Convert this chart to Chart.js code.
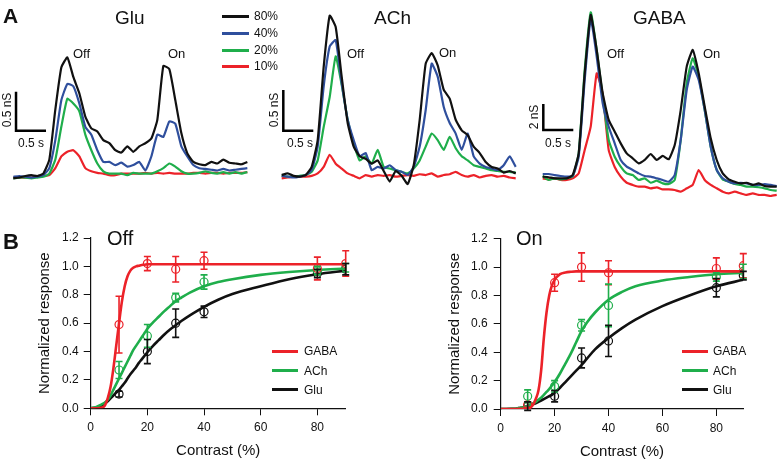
<!DOCTYPE html>
<html>
<head>
<meta charset="utf-8">
<script src="https://cdn.jsdelivr.net/npm/chart.js@4.4.0/dist/chart.umd.min.js"></script>
<style>
  body { margin: 0; width: 779px; height: 462px; background: #fff; position: relative; overflow: hidden;
         font-family: "Liberation Sans", Arial, sans-serif; color: #111; }
  canvas { position: absolute; }
  .lbl { position: absolute; white-space: nowrap; line-height: 1; }
  .key { position: absolute; height: 3px; }
</style>
</head>
<body>
<canvas id="glu" width="260" height="200" style="left:0;top:0"></canvas>
<canvas id="ach" width="260" height="200" style="left:262px;top:0"></canvas>
<canvas id="gaba" width="257" height="200" style="left:522px;top:0"></canvas>
<canvas id="off" width="390" height="262" style="left:0;top:200px"></canvas>
<canvas id="on" width="389" height="262" style="left:390px;top:200px"></canvas>
<script>
// --- Panel A: conductance traces (s, nS) ---
const traceTime = [0,0.1,0.2,0.3,0.4,0.5,0.6,0.7,0.8,0.9,1,1.1,1.2,1.3,1.4,1.5,1.6,1.7,1.8,1.9,
                   2,2.1,2.2,2.3,2.4,2.5,2.6,2.7,2.8,2.9,3,3.1,3.2,3.3,3.4,3.5,3.6,3.7,3.8,3.9];
const contrastLevels = ['80%', '40%', '20%', '10%'];

const gluBlack = [0.00,0.01,0.03,0.04,0.03,0.06,0.24,0.88,1.42,1.55,1.30,1.09,0.79,0.64,0.60,0.49,0.45,0.36,0.33,0.41,
                  0.34,0.41,0.45,0.51,0.75,1.44,1.40,1.00,0.58,0.32,0.21,0.18,0.17,0.21,0.19,0.24,0.20,0.19,0.18,0.21];
const gluBlue  = [0.02,0.03,0.02,0.01,0.02,0.04,0.13,0.49,1.00,1.21,1.18,0.96,0.66,0.56,0.36,0.21,0.21,0.17,0.20,0.15,
                  0.17,0.21,0.10,0.28,0.56,0.53,0.73,0.70,0.41,0.28,0.17,0.13,0.12,0.11,0.10,0.12,0.10,0.11,0.12,0.13];
const gluGreen = [0.00,0.01,0.01,0.00,0.01,0.02,0.06,0.24,0.66,1.02,0.96,0.86,0.56,0.36,0.19,0.09,0.06,0.06,0.06,0.04,
                  0.07,0.06,0.06,0.06,0.09,0.13,0.19,0.15,0.09,0.06,0.06,0.07,0.09,0.07,0.06,0.08,0.06,0.08,0.06,0.08];
const gluRed   = [0.01,0.01,0.01,0.01,0.02,0.03,0.04,0.13,0.28,0.34,0.36,0.28,0.13,0.09,0.07,0.06,0.04,0.04,0.06,0.06,
                  0.06,0.06,0.07,0.06,0.07,0.06,0.07,0.06,0.06,0.06,0.07,0.07,0.06,0.07,0.07,0.06,0.07,0.07,0.07,0.08];

const achBlack = [0.02,0.04,0.01,0.00,0.02,0.12,0.45,1.35,1.98,1.84,1.23,0.66,0.37,0.25,0.22,0.16,0.20,0.07,-0.06,0.07,
                  0.01,-0.09,0.14,0.70,1.39,1.52,1.37,1.07,0.96,0.70,0.57,0.51,0.37,0.29,0.18,0.12,0.10,0.05,0.07,0.04];
const achBlue  = [0.01,0.00,-0.01,0.00,0.02,0.08,0.37,1.11,1.60,1.68,1.15,0.70,0.45,0.25,0.29,0.08,0.12,0.10,0.14,0.08,
                  0.06,0.02,0.12,0.37,0.82,1.39,1.23,0.86,0.66,0.53,0.33,0.53,0.25,0.16,0.12,0.10,0.08,0.14,0.25,0.12];
const achGreen = [0.01,0.00,0.00,0.01,0.02,0.06,0.20,0.61,0.98,1.48,1.13,0.70,0.41,0.20,0.25,0.16,0.33,0.12,0.10,0.08,
                  0.06,0.04,0.10,0.20,0.37,0.53,0.45,0.33,0.49,0.35,0.25,0.20,0.14,0.12,0.10,0.08,0.07,0.06,0.06,0.05];
const achRed   = [-0.02,-0.01,0.00,0.00,0.00,0.01,0.04,0.12,0.27,0.16,0.10,0.04,0.01,-0.02,0.02,0.00,0.02,0.01,0.02,0.00,
                  0.01,0.02,0.01,0.03,0.02,0.04,0.00,0.02,0.03,0.06,0.02,0.00,0.02,-0.01,0.01,0.02,0.00,0.01,-0.01,-0.02];

const gabaBlack = [0.26,0.21,0.13,0.13,0.13,0.38,2.05,8.2,12.7,10.0,6.67,4.62,3.72,2.82,2.05,1.67,1.28,1.54,2.0,1.54,
                   1.85,1.59,2.69,5.38,8.72,10.0,8.2,5.64,3.21,1.54,0.51,0.05,-0.13,-0.26,-0.21,-0.38,-0.26,-0.46,-0.51,-0.51];
const gabaBlue  = [0.46,0.46,0.38,0.31,0.26,0.31,1.79,7.7,12.4,9.5,5.9,4.1,2.82,1.54,1.03,0.77,0.51,0.31,0.26,0.13,
                   0.0,-0.13,0.38,3.08,6.92,8.72,7.7,5.38,2.56,0.77,0.13,-0.13,-0.26,-0.21,-0.26,-0.38,-0.38,-0.31,-0.38,-0.46];
const gabaGreen = [0.31,0.0,0.13,0.05,0.13,0.26,2.05,8.46,12.9,10.0,6.4,3.08,1.79,1.03,0.51,0.38,0.0,0.13,-0.21,-0.05,
                   -0.26,-0.31,0.0,3.08,7.44,9.36,7.95,5.38,2.56,0.77,0.05,-0.13,-0.31,-0.38,-0.51,-0.51,-0.56,-0.64,-0.77,-0.82];
const gabaRed   = [0.13,0.05,0.13,0.0,0.0,0.13,0.51,2.31,4.1,8.2,6.6,2.3,1.0,0.26,-0.21,-0.38,-0.51,-0.51,-0.64,-0.56,
                   -0.72,-0.72,-0.77,-0.9,-0.64,-0.38,0.77,0.0,-0.38,-0.64,-0.9,-1.03,-0.9,-1.03,-1.15,-1.03,-1.15,-1.15,-1.23,-1.15];

// --- Panel B: normalized response vs contrast ---
const contrastX = [10, 20, 30, 40, 80, 90];
const offGabaMean = [0.59, 1.02, 0.98, 1.04, 0.985, 1.02];
const offGabaErr  = [0.20, 0.05, 0.09, 0.06, 0.08, 0.09];
const offAchMean  = [0.27, 0.51, 0.78, 0.89, 0.97, 0.99];
const offAchErr   = [0.06, 0.08, 0.03, 0.05, 0.03, 0.03];
const offGluMean  = [0.10, 0.40, 0.60, 0.68, 0.95, 0.98];
const offGluErr   = [0.02, 0.085, 0.10, 0.04, 0.03, 0.04];
const onGabaMean  = [0.03, 0.89, 1.00, 0.96, 0.99, 1.01];
const onGabaErr   = [0.02, 0.06, 0.10, 0.085, 0.075, 0.085];
const onAchMean   = [0.09, 0.16, 0.59, 0.73, 0.93, 0.97];
const onAchErr    = [0.045, 0.04, 0.04, 0.15, 0.03, 0.05];
const onGluMean   = [0.02, 0.09, 0.36, 0.48, 0.855, 0.94];
const onGluErr    = [0.03, 0.04, 0.07, 0.11, 0.065, 0.03];

const fitX = [0,2,4,5,6,7,8,9,10,11,12,13,14,15,16,17,18,19,20,22,24,26,28,30,32,35,40,45,50,60,70,80,90];
const offGabaFit = [0,0,0.005,0.02,0.07,0.15,0.28,0.44,0.60,0.75,0.86,0.93,0.97,0.99,1.0,1.005,1.01,1.012,1.015,1.015,
                    1.015,1.015,1.015,1.015,1.015,1.015,1.015,1.015,1.015,1.015,1.015,1.015,1.015];
const offAchFit  = [0,0.01,0.03,0.04,0.06,0.09,0.13,0.17,0.21,0.25,0.29,0.33,0.37,0.41,0.44,0.47,0.50,0.53,0.56,0.605,
                    0.645,0.685,0.72,0.755,0.78,0.815,0.86,0.89,0.91,0.94,0.96,0.975,0.985];
const offGluFit  = [0,0.005,0.02,0.035,0.05,0.07,0.09,0.11,0.13,0.155,0.18,0.21,0.24,0.265,0.29,0.32,0.345,0.37,0.395,0.44,
                    0.48,0.52,0.555,0.585,0.615,0.655,0.715,0.765,0.805,0.86,0.91,0.945,0.97];
const onGabaFit  = [0,0,0,0,0,0.001,0.002,0.003,0.005,0.01,0.03,0.07,0.13,0.27,0.50,0.68,0.80,0.87,0.91,0.95,
                    0.962,0.967,0.97,0.97,0.97,0.97,0.97,0.97,0.97,0.97,0.97,0.97,0.97];
const onAchFit   = [0,0,0.001,0.002,0.004,0.007,0.01,0.015,0.02,0.03,0.04,0.05,0.065,0.08,0.10,0.12,0.14,0.165,0.19,0.25,
                    0.32,0.39,0.47,0.55,0.61,0.68,0.77,0.825,0.865,0.905,0.93,0.95,0.96];
const onGluFit   = [0,0,0.001,0.002,0.004,0.007,0.01,0.015,0.02,0.025,0.035,0.04,0.05,0.06,0.07,0.08,0.09,0.10,0.115,0.15,
                    0.19,0.23,0.27,0.31,0.355,0.42,0.50,0.57,0.63,0.725,0.80,0.865,0.91];

const xTickValues = [0, 20, 40, 60, 80];
const yTickValues = [0, 0.2, 0.4, 0.6, 0.8, 1.0, 1.2];

const BLACK = '#111111', BLUE = '#2f4f9d', GREEN = '#1fae4b', RED = '#ec2229';
const FONT = '"Liberation Sans", Arial, sans-serif';
Chart.defaults.font.family = FONT;
Chart.defaults.color = BLACK;

// error bars drawn from each dataset's "errors" array
const errorBarPlugin = {
    id: 'errorBars',
    afterDatasetsDraw(chart) {
        const ctx = chart.ctx;
        const xs = chart.scales.x, ys = chart.scales.y;
        chart.data.datasets.forEach(ds => {
            if (!ds.errors) return;
            ctx.save();
            ctx.strokeStyle = ds.borderColor;
            ctx.lineWidth = 1.6;
            ds.data.forEach((p, i) => {
                const px = xs.getPixelForValue(p.x);
                const top = ys.getPixelForValue(p.y + ds.errors[i]);
                const bot = ys.getPixelForValue(p.y - ds.errors[i]);
                ctx.beginPath();
                ctx.moveTo(px, top); ctx.lineTo(px, bot);
                ctx.moveTo(px - 3.5, top); ctx.lineTo(px + 3.5, top);
                ctx.moveTo(px - 3.5, bot); ctx.lineTo(px + 3.5, bot);
                ctx.stroke();
            });
            ctx.restore();
        });
    }
};

function traceChart(id, series, xRange, yRange, bar) {
    const datasets = series.map(s => ({
        data: traceTime.map((t, i) => ({ x: t, y: s.values[i] })),
        borderColor: s.color,
        borderWidth: 2.2,
        pointRadius: 0,
        tension: 0.15
    }));
    // scale bar
    datasets.push({
        data: [{ x: bar.t, y: bar.g + bar.dg }, { x: bar.t, y: bar.g }, { x: bar.t + bar.dt, y: bar.g }],
        borderColor: '#000',
        borderWidth: 2.5,
        borderJoinStyle: 'miter',
        pointRadius: 0
    });
    new Chart(document.getElementById(id), {
        type: 'line',
        data: { datasets },
        options: {
            responsive: false, animation: false, events: [],
            layout: { padding: 0 },
            plugins: { legend: { display: false }, tooltip: { enabled: false } },
            scales: {
                x: { type: 'linear', display: false, min: xRange[0], max: xRange[1] },
                y: { display: false, min: yRange[0], max: yRange[1] }
            }
        }
    });
}

function contrastChart(id, groups, box) {
    const datasets = [];
    groups.forEach(g => {
        datasets.push({
            type: 'scatter',
            data: contrastX.map((x, i) => ({ x, y: g.mean[i] })),
            errors: g.err,
            borderColor: g.color,
            backgroundColor: 'rgba(0,0,0,0)',
            pointRadius: 4,
            pointBorderWidth: 1.2,
            showLine: false
        });
        datasets.push({
            type: 'line',
            data: fitX.map((x, i) => ({ x, y: g.fit[i] })),
            borderColor: g.color,
            borderWidth: 2.6,
            pointRadius: 0,
            cubicInterpolationMode: 'monotone'
        });
    });
    const axisGrid = { display: true, drawOnChartArea: false, drawTicks: true, tickLength: 7, color: BLACK, lineWidth: 1 };
    const axisBorder = { display: true, color: BLACK, width: 1.2 };
    new Chart(document.getElementById(id), {
        type: 'line',
        data: { datasets },
        plugins: [errorBarPlugin],
        options: {
            responsive: false, animation: false, events: [],
            layout: { padding: { left: 0, top: box.top, right: box.right, bottom: 0 } },
            plugins: { legend: { display: false }, tooltip: { enabled: false } },
            scales: {
                x: {
                    type: 'linear', min: 0, max: 90,
                    afterBuildTicks: s => { s.ticks = xTickValues.map(v => ({ value: v })); },
                    afterFit: s => { s.height = box.xHeight; },
                    grid: axisGrid, border: axisBorder,
                    ticks: { color: BLACK, font: { size: 12 }, padding: 5, maxRotation: 0 },
                    title: { display: true, text: 'Contrast (%)', color: BLACK, font: { size: 15 },
                             padding: { top: 0, bottom: box.xTitlePad } }
                },
                y: {
                    type: 'linear', min: 0, max: 1.2,
                    afterBuildTicks: s => { s.ticks = yTickValues.map(v => ({ value: v })); },
                    afterFit: s => { s.width = box.yWidth; },
                    grid: axisGrid, border: axisBorder,
                    ticks: { color: BLACK, font: { size: 12 }, padding: box.tickPad, callback: v => v.toFixed(1) },
                    title: { display: true, text: 'Normalized response', color: BLACK, font: { size: 15 },
                             padding: { top: box.yTitlePad, bottom: 0 } }
                }
            }
        }
    });
}

function addText(text, x, y, size, opts = {}) {
    const el = document.createElement('div');
    el.className = 'lbl';
    el.textContent = text;
    el.style.left = x + 'px';
    el.style.top = y + 'px';
    el.style.fontSize = size + 'px';
    if (opts.bold) el.style.fontWeight = 'bold';
    el.style.transform = opts.rotate ? 'translate(-50%,-50%) rotate(-90deg)' : 'translateY(-50%)';
    document.body.appendChild(el);
}

function addKey(color, x, y, w) {
    const el = document.createElement('div');
    el.className = 'key';
    el.style.left = x + 'px';
    el.style.top = (y - 1.5) + 'px';
    el.style.width = w + 'px';
    el.style.background = color;
    document.body.appendChild(el);
}

// Panel A
traceChart('glu',
    [{ values: gluBlack, color: BLACK }, { values: gluBlue, color: BLUE },
     { values: gluGreen, color: GREEN }, { values: gluRed, color: RED }],
    [-0.222, 4.111], [-0.278, 2.286], { t: 0.045, g: 0.61, dt: 0.5, dg: 0.5 });
traceChart('ach',
    [{ values: achBlack, color: BLACK }, { values: achBlue, color: BLUE },
     { values: achGreen, color: GREEN }, { values: achRed, color: RED }],
    [-0.328, 4.005], [-0.287, 2.173], { t: 0.027, g: 0.566, dt: 0.5, dg: 0.5 });
traceChart('gaba',
    [{ values: gabaBlack, color: BLACK }, { values: gabaBlue, color: BLUE },
     { values: gabaGreen, color: GREEN }, { values: gabaRed, color: RED }],
    [-0.345, 3.938], [-1.538, 13.846], { t: 0.01, g: 3.85, dt: 0.5, dg: 2 });

// Panel B
contrastChart('off',
    [{ mean: offGabaMean, err: offGabaErr, fit: offGabaFit, color: RED },
     { mean: offAchMean, err: offAchErr, fit: offAchFit, color: GREEN },
     { mean: offGluMean, err: offGluErr, fit: offGluFit, color: BLACK }],
    { top: 38, right: 44.3, xHeight: 53.7, yWidth: 90.7, xTitlePad: 2.3, yTitlePad: 36, tickPad: 5 });
contrastChart('on',
    [{ mean: onGabaMean, err: onGabaErr, fit: onGabaFit, color: RED },
     { mean: onAchMean, err: onAchErr, fit: onAchFit, color: GREEN },
     { mean: onGluMean, err: onGluErr, fit: onGluFit, color: BLACK }],
    { top: 38.7, right: 35.7, xHeight: 53, yWidth: 110.7, xTitlePad: 1.3, yTitlePad: 56, tickPad: 6 });

// labels
addText('A', 3, 15, 21, { bold: true });
addText('B', 3, 242, 22, { bold: true });
addText('Glu', 115, 17, 19);
addText('ACh', 374, 17, 19);
addText('GABA', 633, 17, 19);
addText('Off', 73, 53, 13); addText('On', 168, 53, 13);
addText('Off', 347, 53, 13); addText('On', 439, 52, 13);
addText('Off', 607, 53, 13); addText('On', 703, 53, 13);
addText('0.5 nS', 7, 110, 12, { rotate: true }); addText('0.5 s', 18, 143, 12);
addText('0.5 nS', 274, 110, 12, { rotate: true }); addText('0.5 s', 287, 143, 12);
addText('2 nS', 534, 117, 12, { rotate: true }); addText('0.5 s', 545, 143, 12);

const keyColors = [BLACK, BLUE, GREEN, RED];
const keyY = [16, 33, 50, 66];
contrastLevels.forEach((lv, i) => {
    addKey(keyColors[i], 222, keyY[i], 27);
    addText(lv, 254, keyY[i], 12);
});

addText('Off', 107, 238, 20);
addText('On', 516, 238, 20);

const groupNames = ['GABA', 'ACh', 'Glu'];
const groupColors = [RED, GREEN, BLACK];
const groupKeyY = [351, 370.5, 389.5];
groupNames.forEach((name, i) => {
    addKey(groupColors[i], 272, groupKeyY[i], 26);
    addText(name, 304, groupKeyY[i], 12);
    addKey(groupColors[i], 682, groupKeyY[i], 26);
    addText(name, 713, groupKeyY[i], 12);
});
</script>
</body>
</html>
